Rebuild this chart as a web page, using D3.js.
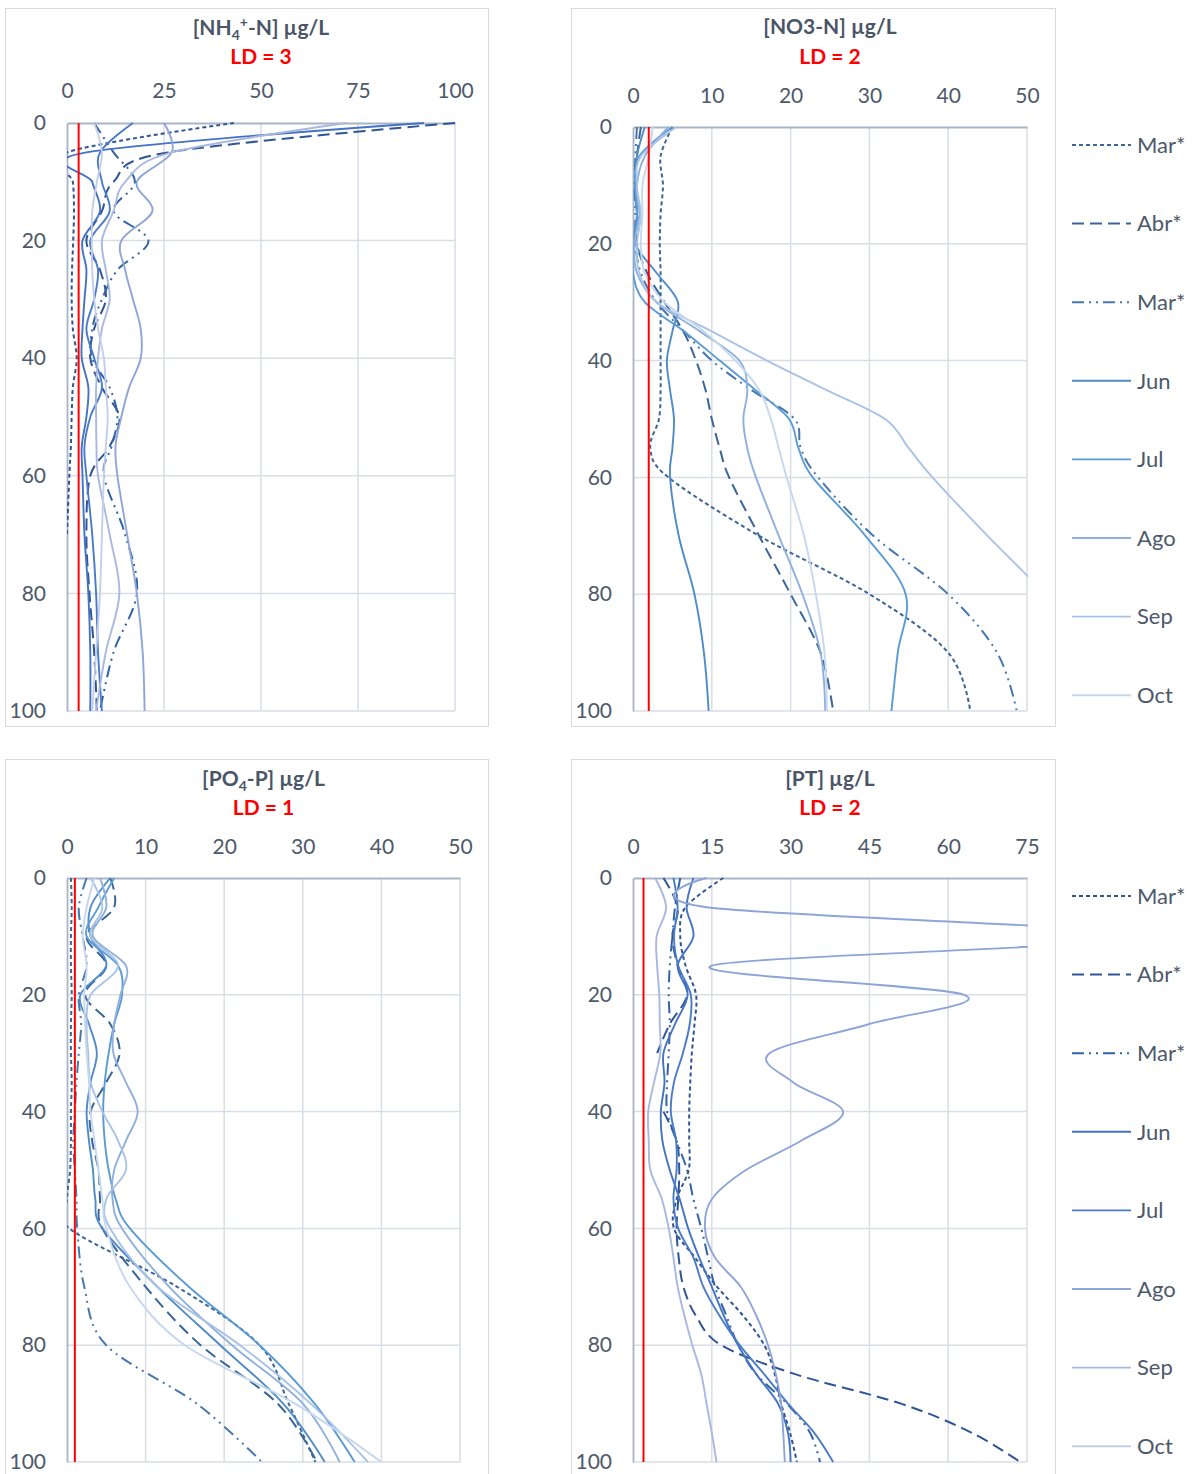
<!DOCTYPE html>
<html><head><meta charset="utf-8">
<script src="https://cdn.jsdelivr.net/npm/d3@7"></script>
<style>
html,body{margin:0;padding:0;background:#fff;}
svg{display:block;}
</style></head><body>
<svg id="chart" width="1194" height="1474"></svg>
<script>
// ---------------- DATA ----------------
const seriesNames = ["Mar*", "Abr*", "Mar*", "Jun", "Jul", "Ago", "Sep", "Oct"];
const depthStd = [0, 5, 10, 15, 20, 25, 30, 35, 40, 45, 50, 55, 60, 70, 80, 90, 100];
const depthPT  = [0, 5, 10, 15, 20, 25, 30, 35, 40, 45, 50, 55, 60, 65, 70, 75, 80, 85, 90, 95, 100];
const depthTicks = [0, 20, 40, 60, 80, 100];
const ticksNH4 = [0, 25, 50, 75, 100];
const ticksNO3 = [0, 10, 20, 30, 40, 50];
const ticksPO4 = [0, 10, 20, 30, 40, 50];
const ticksPT  = [0, 15, 30, 45, 60, 75];
const ldValues = [3, 2, 1, 2];

const nh4Values = [
  [43, 0, 1.5, 1.8, 1.6, 1.3, 1.2, 1.5, 2.5, 1.5, 1.2, 1.0, 0.6, 0, null, null, null],
  [100, 26, 12, 9, 5, 8.5, 10, 7, 6, 9, 13.5, 11, 6, 5, 5.8, 7, 7.7],
  [7, 12, 17.5, 12, 21, 13, 9, 6.5, 6.5, 11, 13, 11.5, 9.5, 15, 18, 12, 8.5],
  [92, 5, 6.5, 8.5, 4, 5, 4.5, 4, 3.8, 5.5, 5, 3.8, 4, 4.5, 5.5, 6, 6],
  [17, 8.5, 9, 11, 6, 8, 7, 5, 7, 9, 6, 4.5, 5, 6.5, 7.5, 8, 9],
  [25, 27, 18, 22, 14, 15, 17, 19, 19, 16, 14, 12.5, 13, 15.5, 18, 19.5, 20],
  [72, 27, 15, 12, 9, 10, 11, 9, 8, 7.5, 7.5, 7.6, 8, 11, 13.5, 10, 7.5],
  [7, 9, 7.7, 6.5, 6.4, 6.5, 7, 8, 9.5, 10, 10.5, 10, 9.5, 9, 8.5, 7.5, 6.5]
];
const no3Values = [
  [5, 3.5, 3.8, 3.5, 3.4, 3.5, 3.5, 3.5, 3.5, 3.5, 3.3, 2.2, 4.5, 16, 30, 40, 42.8],
  [1, 0.5, 0.3, 0.5, 0.5, 1.8, 4, 6.4, 8, 9.2, 10, 11, 12.2, 16, 20, 23.8, 25.4],
  [0.5, 0.3, 0.2, 0.3, 0.3, 1, 3, 6.5, 10, 15, 20.5, 21.3, 23.5, 30.5, 40, 46.2, 48.7],
  [1.5, 0.5, 0.3, 0.5, 0.3, 3, 5.7, 5, 4.3, 4.7, 5.2, 5, 4.7, 5.8, 7.8, 9, 9.6],
  [5, 0.8, 0.3, 0.5, 0.2, 0, 1.5, 6.5, 11, 15.5, 19.8, 21, 22.8, 29.5, 34.6, 33.6, 32.8],
  [4.5, 1.5, 0.5, 0.8, 0.2, 0.5, 3, 8.5, 13.5, 14.5, 14, 14.5, 15.6, 18.5, 21.5, 23.8, 24.4],
  [5.5, 1, 0.5, 1, 0.5, 0.8, 3, 10, 17, 24.5, 32, 35, 38, 45, 52.4, 59.7, 67],
  [2.5, 2, 1.2, 1.2, 1, 1.5, 4, 9, 13, 16, 17.5, 18.5, 19.5, 21.7, 23.2, 24.3, 24.6]
];
const po4Values = [
  [0.5, 0.6, 0.5, 0.5, 0.6, 0.5, 0.5, 0.6, 0.5, 0.5, 0.4, 0, 0.3, 14, 24.5, 28.2, 31.6],
  [5.5, 6, 2.5, 5, 2.3, 5.5, 6.7, 5, 3, 3.2, 4, 4.2, 4.5, 10, 17, 26.8, 31.8],
  [2.5, 1.5, 2, 2.5, 1.5, 1.8, 1.5, 1.2, 1.0, 0.8, 1.0, 1.2, 1.3, 2.2, 5, 16.5, 24.8],
  [5.5, 3, 3, 5, 1.7, 2.8, 3.8, 3, 2.5, 2.8, 3.3, 3.6, 4.5, 11.5, 19.5, 27.5, 32.8],
  [6, 4, 2.5, 6.5, 7, 6, 5.3, 4.8, 4.6, 4.8, 5.3, 6.2, 8, 15.5, 24.5, 31.5, 36.6],
  [4.2, 5, 3.3, 7.5, 6.8, 6, 5.9, 7.5, 9, 7.5, 6, 5.8, 7, 13, 21, 30, 34.7],
  [3, 4.5, 3, 6.5, 3, 2.5, 2.7, 3, 4.5, 6.5, 7.5, 5, 5.5, 11.5, 22, 31, 38.3],
  [3.5, 2.5, 2, 2.5, 2.2, 2.3, 2.5, 2.8, 3, 3.5, 4, 4.5, 5, 8, 15, 29, 40]
];
const ptValues = [
  [17.2, 10, 9, 10, 12, 11.7, 11.2, 10.9, 10.7, 10.7, 10.6, 8.3, 7.8, 11.8, 16, 21, 25, 27, 28.2, 29.9, 31.2],
  [5.8, 8.5, 7.5, 8.5, 10.3, 7, 4.6, null, 5.8, 8.3, 8.8, 8.6, 8.3, 8.7, 9.6, 12, 16.8, 31, 51, 64.5, 73.7],
  [9, 8, 7.5, 7, 6.8, 7, 6.8, 6.5, 6.5, 8.3, 10.3, 11.5, 13, 14.3, 15.6, 17.8, 20, 23.5, 29.3, 33.7, 35.6],
  [11.5, 10.2, 11.5, 8.5, 10.4, 8, 5.8, 6, 5.3, 5.6, 7, 8.9, 10.5, 12.6, 15, 17.3, 20, 23.5, 27.6, 29.5, 30],
  [7.7, 8.5, 7.8, 8.6, 11, 10.8, 9.5, 7.8, 7.2, 8.2, 8.3, 7.7, 8.6, 11.5, 13.4, 16.5, 20.3, 25, 29.5, 34.5, 38.1],
  [14, 14, 98, 15, 63, 45, 26, 30.5, 40, 32, 21.5, 15, 13.7, 15.6, 20.5, 23.5, 25.7, 27.2, 28.2, 28.6, 28.9],
  [4.2, 6.3, 4.5, 4.6, 5, 5.1, 5.2, 4, 2.9, 3, 3.3, 5.5, 6.8, 7.7, 8.5, 9.8, 11.3, 13, 14, 15, 15.9],
  [null, null, null, null, null, null, null, null, null, null, null, null, null, null, null, null, null, null, null, null, null]
];

// ---------------- STYLES ----------------
const paletteA = ["#2f5597", "#2f5597", "#3263a8", "#4472c4", "#4a7bc8", "#8ea5d8", "#a8b8e0", "#c3cfea"];
const paletteB = ["#3a6598", "#3a6598", "#4677ad", "#4f8bc9", "#5b9bd5", "#8fb0dc", "#a9c3e6", "#c6d8ee"];
const dashes = ["4,3", "12,6", "12,5,2,5,2,5", null, null, null, null, null];
const widths = [2, 2, 2, 1.9, 1.9, 1.9, 1.9, 1.9];
const FONT = "Lato, 'Open Sans', 'Noto Sans', sans-serif";
const TEXT = "#4d596b";

const panels = [
  { title: [["[NH", 0], ["4", 1], ["+", 2], ["-N] µg/L", 0]], ld: ldValues[0], values: nh4Values, depths: depthStd,
    ticks: ticksNH4, max: 100, box: [5, 8, 488, 726], plot: [67, 123, 455, 711], titleY: 28, ldY: 57, pad: 25,
    palette: paletteA, legendY: null },
  { title: [["[NO3-N] µg/L", 0]], ld: ldValues[1], values: no3Values, depths: depthStd,
    ticks: ticksNO3, max: 50, box: [571, 8, 1055, 726], plot: [633, 127, 1027, 711], titleY: 27, ldY: 57, pad: 24,
    palette: paletteB, legendY: 145 },
  { title: [["[PO", 0], ["4", 1], ["-P] µg/L", 3]], ld: ldValues[2], values: po4Values, depths: depthStd,
    ticks: ticksPO4, max: 50, box: [5, 759, 488, 1480], plot: [67, 878, 460, 1462], titleY: 779, ldY: 808, pad: 24,
    palette: paletteB, legendY: null },
  { title: [["[PT] µg/L", 0]], ld: ldValues[3], values: ptValues, depths: depthPT,
    ticks: ticksPT, max: 75, box: [571, 759, 1055, 1480], plot: [633, 878, 1027, 1462], titleY: 779, ldY: 808, pad: 24,
    palette: paletteA, legendY: 896 }
];

const svg = d3.select("#chart");
svg.append("rect").attr("width", 1194).attr("height", 1474).attr("fill", "#fff");

panels.forEach((p, pi) => {
  const [bx0, by0, bx1, by1] = p.box;
  svg.append("rect").attr("x", bx0 + 0.5).attr("y", by0 + 0.5)
    .attr("width", bx1 - bx0).attr("height", by1 - by0)
    .attr("fill", "#fff").attr("stroke", "#d9d9d9").attr("stroke-width", 1);

  const [px0, py0, px1, py1] = p.plot;
  const x = d3.scaleLinear().domain([0, p.max]).range([px0, px1]);
  const y = d3.scaleLinear().domain([0, 100]).range([py0, py1]);
  const g = svg.append("g");

  // gridlines
  g.selectAll(".vg").data(p.ticks.filter(t => t > 0)).join("line")
    .attr("x1", d => x(d)).attr("x2", d => x(d)).attr("y1", py0).attr("y2", py1)
    .attr("stroke", "#d9dde4").attr("stroke-width", 1.5);
  g.selectAll(".hg").data(depthTicks.filter(t => t > 0)).join("line")
    .attr("x1", px0).attr("x2", px1).attr("y1", d => y(d)).attr("y2", d => y(d))
    .attr("stroke", "#d9dde4").attr("stroke-width", 1.5);

  // axes
  const ax = g.append("g").attr("transform", `translate(0,${py0})`)
    .call(d3.axisTop(x).tickValues(p.ticks).tickSize(0).tickPadding(p.pad).tickFormat(d3.format("d")));
  const ay = g.append("g").attr("transform", `translate(${px0},0)`)
    .call(d3.axisLeft(y).tickValues(depthTicks).tickSize(0).tickPadding(21).tickFormat(d3.format("d")));
  [ax, ay].forEach(a => {
    a.select(".domain").attr("stroke", "#a9b4c6").attr("stroke-width", 1.8);
    a.selectAll("text").attr("font-family", FONT).attr("font-size", 21).attr("fill", TEXT);
  });

  // clip
  const cid = "clip" + pi;
  svg.append("clipPath").attr("id", cid).append("rect")
    .attr("x", px0).attr("y", py0 - 1).attr("width", px1 - px0 + 1).attr("height", py1 - py0 + 2);

  const line = d3.line()
    .defined(d => d.v != null)
    .x(d => x(d.v)).y(d => y(d.d))
    .curve(d3.curveCardinal.tension(0));

  const lg = g.append("g").attr("clip-path", `url(#${cid})`);
  p.values.forEach((vals, si) => {
    const pts = vals.map((v, i) => ({ v: v, d: p.depths[i] }));
    lg.append("path").datum(pts)
      .attr("d", line)
      .attr("fill", "none")
      .attr("stroke", p.palette[si])
      .attr("stroke-width", widths[si])
      .attr("stroke-dasharray", dashes[si])
      .attr("stroke-linejoin", "round");
  });

  // LD line
  g.append("line").attr("x1", x(p.ld)).attr("x2", x(p.ld)).attr("y1", py0).attr("y2", py1)
    .attr("stroke", "#ff0000").attr("stroke-width", 2);

  // title
  const cx = (px0 + px1) / 2;
  const tt = g.append("text").attr("x", cx).attr("y", p.titleY).attr("dy", "0.35em")
    .attr("text-anchor", "middle").attr("font-family", FONT).attr("font-size", 21)
    .attr("font-weight", "bold").attr("fill", "#4a5568");
  p.title.forEach(([t, kind], i) => {
    const ts = tt.append("tspan").text(t);
    if (kind === 1) ts.attr("font-size", 14).attr("dy", 5);
    else if (kind === 2) ts.attr("font-size", 14).attr("dy", -13);
    else if (kind === 3) ts.attr("dy", -5);
    else if (i > 0) ts.attr("dy", 8);
  });
  g.append("text").attr("x", cx).attr("y", p.ldY).attr("dy", "0.35em")
    .attr("text-anchor", "middle").attr("font-family", FONT).attr("font-size", 21)
    .attr("font-weight", "bold").attr("fill", "#ff0000").text("LD = " + p.ld);

  // legend
  if (p.legendY != null) {
    const leg = svg.append("g");
    seriesNames.forEach((name, si) => {
      const ly = p.legendY + si * 78.6;
      leg.append("line").attr("x1", 1072).attr("x2", 1131).attr("y1", ly).attr("y2", ly)
        .attr("stroke", p.palette[si]).attr("stroke-width", widths[si])
        .attr("stroke-dasharray", dashes[si]);
      leg.append("text").attr("x", 1137).attr("y", ly).attr("dy", "0.35em")
        .attr("font-family", FONT).attr("font-size", 22).attr("fill", TEXT).text(name);
    });
  }
});
</script>
</body></html>
